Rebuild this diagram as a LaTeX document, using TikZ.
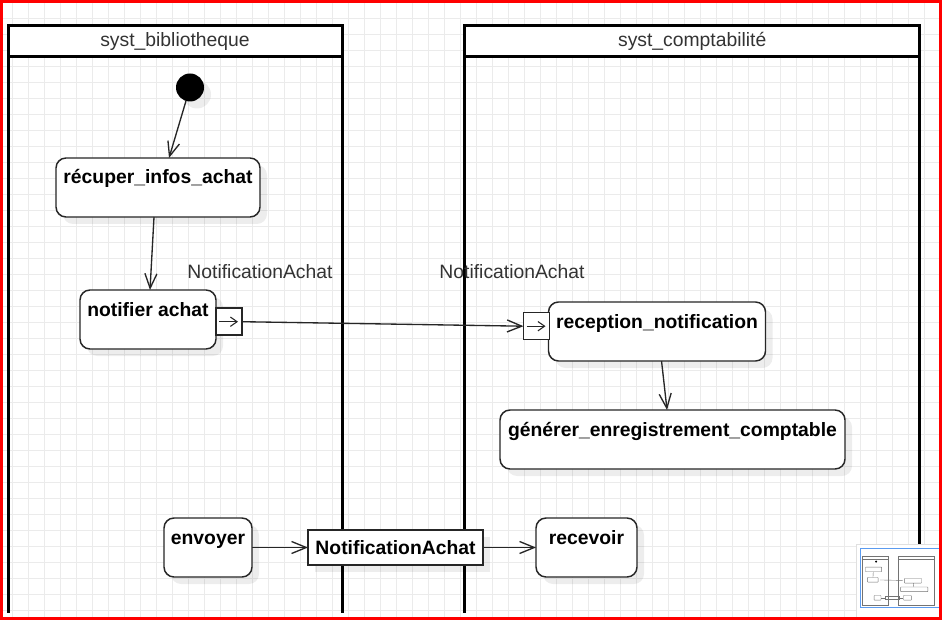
\documentclass[tikz,border=0pt]{standalone}
\usepackage{fontspec}
\setmainfont{Liberation Sans}
\usetikzlibrary{arrows.meta,shadows}
\definecolor{lblgray}{HTML}{333333}
\definecolor{gridgray}{HTML}{EBEBEB}
\definecolor{thumbblue}{HTML}{5B9BF0}
\newcommand{\lblfont}{\fontsize{14.5}{17}\selectfont}
\tikzset{>={Straight Barb[length=11pt,width=9pt]}}
\tikzset{
  myshadow/.style={drop shadow={shadow xshift=5.25pt,shadow yshift=-5.25pt,opacity=0.07,fill=black}},
  gridline/.style={gridgray,line width=0.75pt},
  lanehead/.style={draw,line width=2.25pt,fill=white,text=lblgray,font=\lblfont,inner sep=0pt,outer sep=0pt,
    anchor=north west,minimum height=23.6pt},
  lanebody/.style={line width=2.25pt},
  act/.style={draw=black!85,line width=1.1pt,rounded corners=7.5pt,fill=white,font=\lblfont\bfseries,
    inner xsep=0pt,inner ysep=0pt,outer sep=0pt,text height=19.5pt,text depth=24.75pt,anchor=north west,myshadow},
  objbox/.style={draw=black!85,line width=1.1pt,fill=white,font=\lblfont\bfseries,minimum width=131.25pt,
    minimum height=26.25pt,inner sep=0pt,outer sep=0pt,myshadow},
  pinbox/.style={draw=black!85,line width=1.1pt,fill=white,minimum width=19.5pt,minimum height=20.25pt,
    inner sep=0pt,outer sep=0pt},
  flow/.style={->,draw=black!85,line width=1pt},
  pinarrow/.style={-{Straight Barb[length=5pt,width=7pt]},draw=black!85,line width=0.8pt},
  msglabel/.style={text=lblgray,font=\lblfont}
}

\begin{document}
\begin{tikzpicture}[x=0.75pt,y=-0.75pt]
\useasboundingbox (0,0) rectangle (942,620);
\fill[white] (0,0) rectangle (942,620);
\foreach \gx in {0,...,58}
  \draw[gridline] (12.3+16*\gx,0) -- (12.3+16*\gx,620);
\foreach \gy in {0,...,38}
  \draw[gridline] (0,2.5+16*\gy) -- (942,2.5+16*\gy);
\coordinate (lanebottom) at (0,613);
% swimlanes
\node[lanehead,minimum width=250.5pt] (bib) at (8,25.5) {syst\_bibliotheque};
\draw[lanebody] (bib.south west) -- (bib.south west |- lanebottom);
\draw[lanebody] (bib.south east) -- (bib.south east |- lanebottom);
\node[lanehead,minimum width=341.6pt] (compta) at (464.5,25.5) {syst\_comptabilité};
\draw[lanebody] (compta.south west) -- (compta.south west |- lanebottom);
\draw[lanebody] (compta.south east) -- (compta.south east |- lanebottom);
% actions
\node[circle,fill=black,minimum size=21pt,inner sep=0pt,myshadow] (init) at (190,87.5) {};
\node[act,minimum width=153pt] (recuper) at (56,158) {récuper\_infos\_achat};
\node[act,minimum width=102pt] (notifier) at (80,290) {notifier achat};
\node[pinbox] (outpin) at (229,321.7) {};
\node[act,minimum width=162.75pt] (reception) at (548.5,302) {reception\_notification};
\node[pinbox] (inpin) at (536.5,326.2) {};
\node[act,minimum width=258.75pt] (generer) at (500,410) {générer\_enregistrement\_comptable};
\node[act,minimum width=66pt] (envoyer) at (164,518) {envoyer};
\node[objbox] (notifobj) at (395.5,547.5) {NotificationAchat};
\node[act,minimum width=75.75pt] (recevoir) at (536,518) {recevoir};
\node[msglabel] (lblout) at (260,272) {NotificationAchat};
\node[msglabel] (lblin) at (512,272) {NotificationAchat};
% flows
\draw[flow] (init) -- ([xshift=8.25pt]recuper.north);
\draw[flow] ([xshift=-3pt]recuper.south) -- ([xshift=1.5pt]notifier.north);
\draw[flow] (outpin.east) -- (inpin.west);
\draw[pinarrow] ([xshift=2.5pt]outpin.west) -- ([xshift=-3pt]outpin.east);
\draw[pinarrow] ([xshift=2.5pt]inpin.west) -- ([xshift=-3pt]inpin.east);
\draw[flow] ([xshift=3.4pt]reception.south) -- ([xshift=-4.1pt]generer.north);
\draw[flow] (envoyer) -- (notifobj);
\draw[flow] (notifobj) -- (recevoir);
% outline
\fill[white,draw=black!12,line width=0.75pt] (856,544) rectangle (944,622);
\draw[thumbblue,line width=1.1pt] (860.5,548.5) rectangle (939.5,607.5);
\begin{scope}[shift={(861.1,554.6)},scale=0.079,line width=0.3pt,draw=black!55]
\draw (8,26) rectangle (342,640);
\draw (8,58) -- (342,58);
\draw (464,26) rectangle (920,640);
\draw (464,58) -- (920,58);
\fill (190,88) circle (14);
\foreach \xa/\ya/\xb/\yb in {56/158/260/217,80/290/216/349,548/302/765/361,500/410/845/469,164/518/252/577,536/518/637/577}
  \draw[rounded corners=0.4pt] (\xa,\ya) rectangle (\xb,\yb);
\draw (308,530) rectangle (483,565);
\draw (241,321) -- (524,327);
\draw (154,218) -- (150,290);
\draw (661,362) -- (667,410);
\draw (252,547) -- (308,547);
\draw (483,547) -- (536,547);
\end{scope}
\draw[red,line width=1.9pt] (1.27,1.27) rectangle (940.73,618.73);
\end{tikzpicture}
\end{document}
